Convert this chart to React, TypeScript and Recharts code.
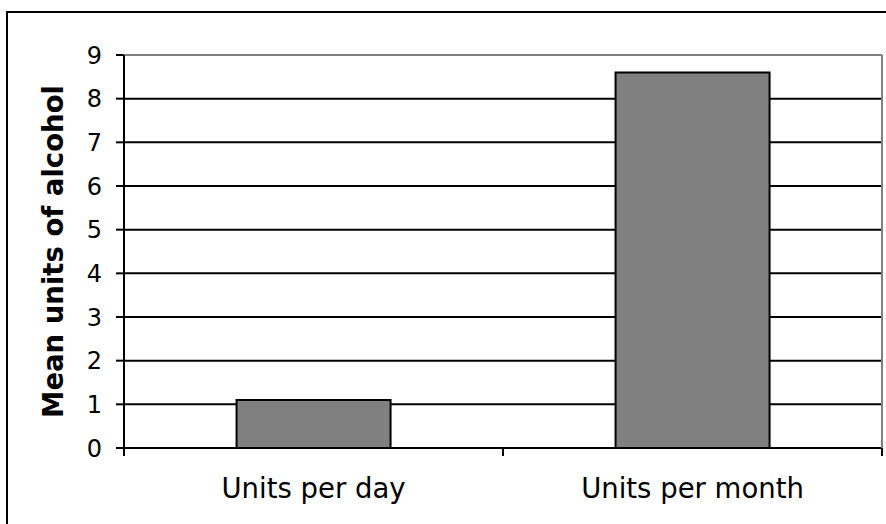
import React from 'react';
import {
  BarChart,
  Bar,
  XAxis,
  YAxis,
  CartesianGrid,
  ReferenceLine
} from 'recharts';

// Chart data
const categories = ['Units per day', 'Units per month'];
const meanUnits = [1.1, 8.6];
const yTicks = [0, 1, 2, 3, 4, 5, 6, 7, 8, 9];

const CHART_W = 886;
const CHART_H = 524;
const Y_AXIS_W = 124;
const RIGHT_AXIS_W = 4;
const FONT = '"DejaVu Sans", Verdana, sans-serif';

const data = categories.map((name, i) => ({ name, value: meanUnits[i] }));

// width of one category band, used to put x tick marks on the band edges
const bandWidth = (CHART_W - Y_AXIS_W - RIGHT_AXIS_W) / categories.length;

// eslint-disable-next-line @typescript-eslint/no-explicit-any
const CategoryTick = (props: any) => {
  const { x, y, payload } = props;
  return (
    <g>
      <line x1={x - bandWidth / 2} x2={x - bandWidth / 2} y1={y} y2={y + 8} stroke="#000" strokeWidth={2} />
      <line x1={x + bandWidth / 2} x2={x + bandWidth / 2} y1={y} y2={y + 8} stroke="#000" strokeWidth={2} />
      <text x={x} y={y + 50} textAnchor="middle" fill="#000" fontSize={27.5} fontFamily={FONT}>
        {payload.value}
      </text>
    </g>
  );
};

export default function App() {
  return (
    <div style={{ position: 'absolute', left: 0, top: 0, width: CHART_W, height: CHART_H, overflow: 'hidden', background: '#fff' }}>
      <div
        style={{
          position: 'absolute',
          left: 6,
          top: 11,
          width: 900,
          height: 540,
          border: '2px solid #000',
          boxSizing: 'border-box'
        }}
      />
      <BarChart
        width={CHART_W}
        height={CHART_H}
        data={data}
        margin={{ top: 55, right: 0, bottom: 0, left: 0 }}
        barCategoryGap="29.7%"
        style={{ position: 'absolute', left: 0, top: 0 }}
      >
        <CartesianGrid yAxisId="left" vertical={false} stroke="#000" strokeWidth={2} />
        <XAxis
          dataKey="name"
          height={76}
          stroke="#000"
          strokeWidth={2}
          axisLine={{ stroke: '#000', strokeWidth: 2 }}
          tickLine={false}
          tickSize={0}
          tickMargin={0}
          tick={<CategoryTick />}
          interval={0}
        />
        <YAxis
          yAxisId="left"
          width={Y_AXIS_W}
          domain={[0, 9]}
          ticks={yTicks}
          interval={0}
          stroke="#000"
          strokeWidth={2}
          axisLine={{ stroke: '#000', strokeWidth: 2 }}
          tickLine={{ stroke: '#000', strokeWidth: 2 }}
          tickSize={8}
          tickMargin={14}
          tick={{ fill: '#000', fontSize: 24, fontFamily: FONT, strokeWidth: 0 }}
          label={{
            content: ({ viewBox }: any) => {
              const cx = viewBox.x + 53;
              const cy = viewBox.y + viewBox.height / 2;
              return (
                <text
                  x={cx}
                  y={cy}
                  transform={`rotate(-90, ${cx}, ${cy})`}
                  textAnchor="middle"
                  dominantBaseline="central"
                  fontSize={27.5}
                  fontWeight="bold"
                  fontFamily={FONT}
                  fill="#000"
                >
                  Mean units of alcohol
                </text>
              );
            }
          }}
        />
        <YAxis
          yAxisId="right"
          orientation="right"
          width={RIGHT_AXIS_W}
          domain={[0, 9]}
          tick={false}
          tickLine={false}
          axisLine={{ stroke: '#808080', strokeWidth: 2 }}
        />
        <ReferenceLine yAxisId="left" y={9} stroke="#808080" strokeWidth={2} />
        <Bar
          yAxisId="left"
          dataKey="value"
          fill="#808080"
          stroke="#000"
          strokeWidth={2}
          isAnimationActive={false}
        />
      </BarChart>
    </div>
  );
}
